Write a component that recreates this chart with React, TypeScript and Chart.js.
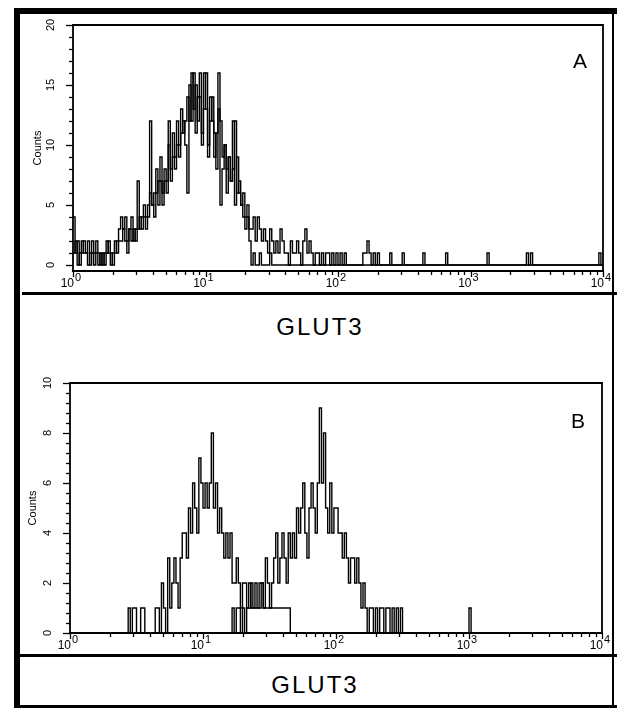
import React, { useEffect, useRef } from "react";
import { Chart, registerables } from "chart.js";

Chart.register(...registerables);

const CHANNELS = 256;
const CHANNELS_PER_DECADE = 64;
const X_DECADES = [1, 10, 100, 1000, 10000];
const X_EXPONENTS = ["0", "1", "2", "3", "4"];
const AXIS_TITLE = "GLUT3";
const Y_TITLE = "Counts";

// Panel A
const aYTicks = [0, 5, 10, 15, 20];
const aControlStart = 0;
const aControlCounts = [
  4, 1, 2, 0, 1, 2, 1, 0, 1, 2,
  1, 1, 0, 1, 0, 1, 2, 1, 1, 0,
  2, 1, 3, 4, 3, 4, 1, 3, 4, 2,
  3, 7, 3, 4, 4, 3, 5, 12, 5, 6,
  8, 5, 7, 6, 7, 6, 12, 7, 9, 8,
  10, 9, 11, 12, 10, 6, 15, 12, 16, 11,
  14, 16, 10, 13, 16, 9, 12, 14, 11, 8,
  16, 5, 8, 10, 6, 9, 7, 12, 5, 9,
  6, 5, 4, 3, 4, 2, 0, 1, 0, 0,
  1, 0, 0, 0, 0, 1, 0, 0, 0, 0,
];
const aGlutStart = 0;
const aGlutCounts = [
  1, 2, 0, 1, 2, 1, 1, 2, 0, 1,
  0, 2, 1, 0, 1, 0, 1, 2, 0, 1,
  1, 2, 2, 2, 3, 2, 2, 3, 2, 3,
  2, 3, 4, 3, 5, 4, 4, 6, 5, 4,
  6, 7, 9, 5, 8, 7, 10, 8, 11, 9,
  12, 10, 13, 11, 12, 14, 12, 16, 13, 15,
  12, 14, 11, 16, 13, 10, 14, 12, 9, 11,
  13, 12, 9, 10, 8, 9, 7, 8, 12, 6,
  7, 5, 6, 4, 5, 3, 3, 4, 2, 4,
  3, 2, 3, 2, 1, 3, 2, 1, 2, 1,
  3, 2, 1, 1, 0, 2, 1, 1, 2, 1,
  0, 2, 3, 1, 2, 1, 0, 1, 1, 0,
  1, 0, 1, 1, 0, 1, 0, 1, 0, 1,
  0, 1, 0, 0, 0, 0, 0, 0, 0, 0,
  1, 1, 2, 1, 0, 1, 0, 1, 0, 0,
];
const aGlutTailChannels = [153, 159, 169, 180, 200, 219, 221, 254];
const aGlutTailCounts = [1, 1, 1, 1, 1, 1, 1, 1];

// Panel B
const bYTicks = [0, 2, 4, 6, 8, 10];
const bControlStart = 28;
const bControlCounts = [
  1, 0, 1, 1, 0, 0, 1, 1, 0, 0, 0, 0,
  0, 1, 1, 0, 2, 1, 0, 3, 1, 2,
  3, 2, 1, 3, 4, 4, 3, 5, 4, 6,
  5, 4, 7, 6, 5, 6, 5, 6, 8, 5,
  6, 4, 5, 4, 3, 4, 3, 4, 2, 2,
  3, 2, 1, 2, 2, 1, 2, 1, 1, 1,
  1, 1, 2, 1, 1, 1, 1, 1, 1, 1,
  1, 1, 1, 1, 1, 1,
];
const bGlutStart = 78;
const bGlutCounts = [
  1, 0, 1, 1, 0, 1, 0, 1, 1, 2, 1, 2,
  1, 2, 2, 1, 3, 2, 1, 2, 3, 4,
  2, 3, 4, 3, 2, 4, 3, 4, 3, 5,
  4, 5, 6, 4, 3, 5, 6, 5, 4, 6,
  9, 6, 8, 5, 4, 6, 4, 5, 5, 4,
  4, 3, 4, 3, 2, 3, 3, 2, 3, 2,
  1, 2, 1, 0, 1, 1, 0, 1, 0, 1,
  1, 0, 1, 1, 0, 1, 0, 1, 0, 1,
];
const bGlutTailChannels = [192];
const bGlutTailCounts = [1];

type Series = { start: number; counts: number[]; tailCh: number[]; tailCounts: number[] };

function toPoints(s: Series) {
  const full: number[] = new Array(CHANNELS).fill(0);
  s.counts.forEach((v, i) => {
    full[s.start + i] = v;
  });
  s.tailCh.forEach((c, i) => {
    full[c] = s.tailCounts[i];
  });
  const pts = full.map((v, c) => ({ x: Math.pow(10, c / CHANNELS_PER_DECADE), y: v }));
  pts.push({ x: Math.pow(10, CHANNELS / CHANNELS_PER_DECADE), y: full[CHANNELS - 1] });
  return pts;
}

const FONT = '"Liberation Sans", Arial, sans-serif';

function makeAxesPlugin(yTicks: number[], minorPerMajor: number, titleOffset: number) {
  return {
    id: "flowAxes",
    afterDatasetsDraw(chart: any) {
      const ctx = chart.ctx as CanvasRenderingContext2D;
      const { left, right, top, bottom } = chart.chartArea;
      const xs = chart.scales.x;
      const ys = chart.scales.y;
      ctx.save();
      ctx.strokeStyle = "#000";
      ctx.fillStyle = "#000";
      // box
      ctx.lineWidth = 1.8;
      ctx.beginPath();
      ctx.moveTo(left, bottom);
      ctx.lineTo(left, top);
      ctx.lineTo(right, top);
      ctx.lineTo(right, bottom);
      ctx.stroke();
      ctx.lineWidth = 2.2;
      ctx.beginPath();
      ctx.moveTo(left - 1, bottom);
      ctx.lineTo(right + 1, bottom);
      ctx.stroke();
      // x ticks
      ctx.lineWidth = 1.3;
      for (let d = 0; d < X_DECADES.length; d++) {
        const base = X_DECADES[d];
        const maxM = d === X_DECADES.length - 1 ? 1 : 9;
        for (let m = 1; m <= maxM; m++) {
          const px = Math.round(xs.getPixelForValue(base * m)) + 0.5;
          const len = m === 1 ? 6 : 4;
          ctx.beginPath();
          ctx.moveTo(px, bottom);
          ctx.lineTo(px, bottom + len);
          ctx.stroke();
        }
      }
      // y ticks
      const majorStep = yTicks[1] - yTicks[0];
      const minorStep = majorStep / minorPerMajor;
      const nMinor = Math.round((yTicks[yTicks.length - 1] - yTicks[0]) / minorStep);
      for (let i = 0; i <= nMinor; i++) {
        const v = yTicks[0] + i * minorStep;
        const py = Math.round(ys.getPixelForValue(v)) + 0.5;
        const len = i % minorPerMajor === 0 ? 7 : 4;
        ctx.beginPath();
        ctx.moveTo(left, py);
        ctx.lineTo(left - len, py);
        ctx.stroke();
      }
      // x labels
      ctx.textBaseline = "alphabetic";
      X_DECADES.forEach((v, i) => {
        const px = xs.getPixelForValue(v);
        ctx.font = `12px ${FONT}`;
        ctx.textAlign = "right";
        ctx.fillText("10", px + 1, bottom + 16);
        ctx.font = `11px ${FONT}`;
        ctx.textAlign = "left";
        ctx.fillText(X_EXPONENTS[i], px + 2, bottom + 10);
      });
      // y labels
      ctx.font = `11px ${FONT}`;
      ctx.textAlign = "center";
      ctx.textBaseline = "middle";
      yTicks.forEach((v) => {
        const py = ys.getPixelForValue(v);
        ctx.save();
        ctx.translate(left - 22, py);
        ctx.rotate(-Math.PI / 2);
        ctx.fillText(String(v), 0, 0);
        ctx.restore();
      });
      ctx.save();
      ctx.translate(left - titleOffset, (top + bottom) / 2);
      ctx.rotate(-Math.PI / 2);
      ctx.fillText(Y_TITLE, 0, 0);
      ctx.restore();
      ctx.restore();
    },
  };
}

type PanelProps = {
  series: Series[];
  yMin: number;
  yMax: number;
  yTicks: number[];
  padding: { left: number; right: number; top: number; bottom: number };
  titleOffset: number;
  left: number;
  top: number;
  width: number;
  height: number;
};

function Panel(p: PanelProps) {
  const ref = useRef<HTMLCanvasElement>(null);
  useEffect(() => {
    const chart = new Chart(ref.current as HTMLCanvasElement, {
      type: "line",
      data: {
        datasets: p.series.map((s) => ({
          data: toPoints(s),
          borderColor: "#000",
          borderWidth: 1.4,
          pointRadius: 0,
          stepped: true,
          fill: false,
        })),
      },
      options: {
        responsive: false,
        animation: false,
        devicePixelRatio: 1,
        events: [],
        layout: { padding: p.padding },
        plugins: { legend: { display: false }, tooltip: { enabled: false }, title: { display: false } },
        scales: {
          x: { type: "logarithmic", min: 1, max: 10000, display: false },
          y: { type: "linear", min: p.yMin, max: p.yMax, display: false },
        },
      } as any,
      plugins: [makeAxesPlugin(p.yTicks, 5, p.titleOffset)],
    });
    return () => chart.destroy();
  }, []);
  return (
    <canvas
      ref={ref}
      width={p.width}
      height={p.height}
      style={{ position: "absolute", left: p.left, top: p.top, width: p.width, height: p.height }}
    />
  );
}

const bar = (left: number, top: number, width: number, height: number) => (
  <div style={{ position: "absolute", left, top, width, height, background: "#000" }} />
);

export default function App() {
  return (
    <div
      style={{
        position: "absolute",
        left: 0,
        top: 0,
        width: 617,
        height: 720,
        background: "#fff",
        overflow: "hidden",
        fontFamily: FONT,
        color: "#000",
      }}
    >
      <Panel
        series={[
          { start: aControlStart, counts: aControlCounts, tailCh: [], tailCounts: [] },
          { start: aGlutStart, counts: aGlutCounts, tailCh: aGlutTailChannels, tailCounts: aGlutTailCounts },
        ]}
        yMin={-0.5}
        yMax={20}
        yTicks={aYTicks}
        padding={{ left: 53, right: 9, top: 10, bottom: 20 }}
        titleOffset={35}
        left={20}
        top={15}
        width={592}
        height={276}
      />
      <Panel
        series={[
          { start: bControlStart, counts: bControlCounts, tailCh: [], tailCounts: [] },
          { start: bGlutStart, counts: bGlutCounts, tailCh: bGlutTailChannels, tailCounts: bGlutTailCounts },
        ]}
        yMin={0}
        yMax={10}
        yTicks={bYTicks}
        padding={{ left: 50, right: 10, top: 15, bottom: 21 }}
        titleOffset={37}
        left={20}
        top={368}
        width={592}
        height={286}
      />
      {bar(14, 8, 6, 700)}
      {bar(14, 8, 603, 6)}
      {bar(612, 14, 1.5, 694)}
      {bar(22, 292, 595, 3)}
      {bar(14, 654, 603, 3)}
      {bar(14, 705, 603, 3)}
      <div
        style={{
          position: "absolute",
          left: 220,
          top: 315,
          width: 200,
          textAlign: "center",
          fontSize: 24,
          lineHeight: "24px",
          letterSpacing: 2,
        }}
      >
        {AXIS_TITLE}
      </div>
      <div
        style={{
          position: "absolute",
          left: 215,
          top: 673,
          width: 200,
          textAlign: "center",
          fontSize: 24,
          lineHeight: "24px",
          letterSpacing: 2,
        }}
      >
        {AXIS_TITLE}
      </div>
      <div style={{ position: "absolute", left: 565, top: 50, width: 30, textAlign: "center", fontSize: 21, lineHeight: "21px" }}>
        A
      </div>
      <div style={{ position: "absolute", left: 563, top: 410, width: 30, textAlign: "center", fontSize: 21, lineHeight: "21px" }}>
        B
      </div>
    </div>
  );
}
